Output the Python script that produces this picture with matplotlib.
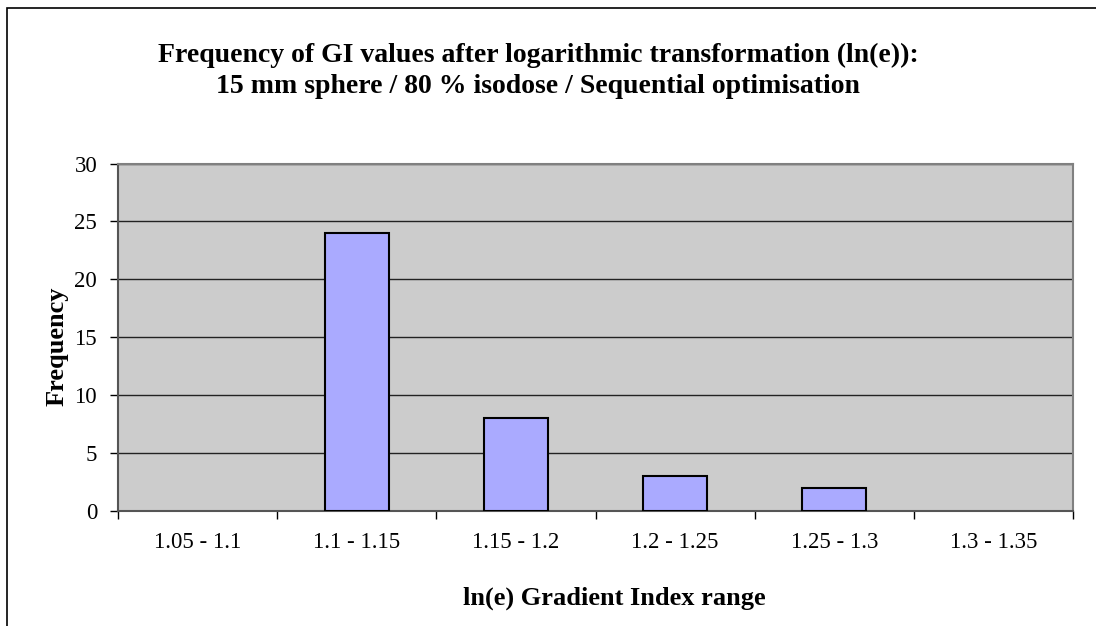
import numpy as np
import matplotlib.pyplot as plt
from matplotlib.patches import Rectangle

# data
ranges = ['1.05 - 1.1', '1.1 - 1.15', '1.15 - 1.2', '1.2 - 1.25', '1.25 - 1.3', '1.3 - 1.35']
freq = [0, 24, 8, 3, 2, 0]

plt.rcParams['font.family'] = ['Liberation Serif', 'DejaVu Serif']

W, H = 1096, 626
fig = plt.figure(figsize=(W / 100, H / 100), dpi=100)
fig.patch.set_facecolor('white')

# outer chart frame (only left/top visible in the reference)
fig.patches.append(Rectangle((7 / W, -0.1), 1.2, 1 - 8 / H + 0.1, transform=fig.transFigure,
                             fill=False, edgecolor='black', linewidth=1.2))

left, right, top, bottom = 118, 1073, 163.5, 511
ax = fig.add_axes([left / W, 1 - bottom / H, (right - left) / W, (bottom - top) / H])
ax.set_facecolor('#CCCCCC')

x = np.arange(len(ranges))
lw = [1.5 if f > 0 else 0 for f in freq]
ax.bar(x, freq, width=0.4, color='#AAAAFF', edgecolor='black', linewidth=lw, zorder=3)

ax.set_xlim(-0.5, len(ranges) - 0.5)
ax.set_ylim(0, 30)
ax.set_yticks(range(0, 31, 5))
ax.yaxis.grid(True, color='#222222', linewidth=1, zorder=1)
ax.set_axisbelow(True)

# category labels between boundary ticks
ax.set_xticks(np.arange(-0.5, len(ranges)), minor=False)
ax.set_xticklabels([])
ax.set_xticks(x, minor=True)
ax.set_xticklabels(ranges, minor=True, fontsize=16.5)
ax.tick_params(axis='x', which='major', direction='out', length=5.5, width=1, color='black')
ax.tick_params(axis='x', which='minor', length=0, pad=15)
ax.tick_params(axis='y', direction='out', length=5.5, width=1, labelsize=16.5, pad=9.5)

for s in ['top', 'right']:
    ax.spines[s].set_color('#808080')
    ax.spines[s].set_linewidth(1.5)
for s in ['left', 'bottom']:
    ax.spines[s].set_color('#555555')
    ax.spines[s].set_linewidth(1.5)

fig.text(538 / W, 1 - 62 / H, 'Frequency of GI values after logarithmic transformation (ln(e)):',
         ha='center', va='baseline', fontsize=20, fontweight='bold')
fig.text(538 / W, 1 - 93 / H, '15 mm sphere / 80 % isodose / Sequential optimisation',
         ha='center', va='baseline', fontsize=20, fontweight='bold')
fig.text(614 / W, 1 - 605 / H, 'ln(e) Gradient Index range',
         ha='center', va='baseline', fontsize=19, fontweight='bold')
fig.text(57 / W, 1 - 346 / H, 'Frequency', rotation=90,
         ha='center', va='center', fontsize=19, fontweight='bold')

fig.savefig('out.png', dpi=100)
